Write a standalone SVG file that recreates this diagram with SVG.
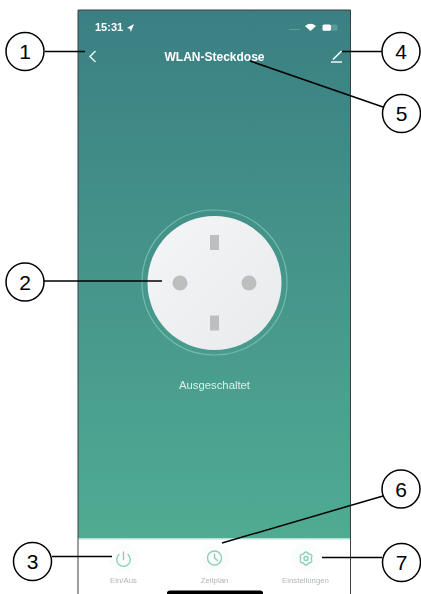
<svg xmlns="http://www.w3.org/2000/svg" width="421" height="594" viewBox="0 0 421 594">
<style>
.c{fill:#fff;stroke:#000;stroke-width:1.5}
.n{font:21px "Liberation Sans",Arial,sans-serif;fill:#000;text-anchor:middle}
.l{fill:none;stroke:#000;stroke-width:1.5}
.t{font-family:"Liberation Sans",Arial,sans-serif;text-anchor:middle}
.w{fill:#fff}
.tab{font-size:7.8px;fill:#b2b6b6}
.i{fill:none;stroke:#8fcdbd;stroke-width:1.4;stroke-linecap:round;stroke-linejoin:round}
.h{fill:#bdbfbf}
</style>
<defs>
<linearGradient id="g" x1="0" y1="0" x2="0" y2="1"><stop offset="0" stop-color="#3b7f83"/><stop offset="1" stop-color="#50ab92"/></linearGradient>
<linearGradient id="s" x1="0" y1="0" x2="1" y2="1"><stop offset="0" stop-color="#f3f5f6"/><stop offset="1" stop-color="#e8eaec"/></linearGradient>
<filter id="b" x="-5%" y="-5%" width="110%" height="110%"><feGaussianBlur stdDeviation="0.4"/></filter>
</defs>
<g id="screen">
<rect x="78" y="10" width="273" height="584" fill="#fff"/>
<rect x="78" y="10" width="273" height="528" fill="url(#g)"/>
<rect x="78" y="538" width="273" height="1.500" fill="#b5e0d4"/>
<path d="M78 594V10H350.500V594" fill="none" stroke="#3a3e40" stroke-width="1"/>
<path d="M167 594V593Q167 590.500 170 590.500H260Q263 590.500 263 593V594Z" fill="#000"/>
</g>
<g id="status" filter="url(#b)">
<text x="95" y="31" class="t w" style="font-weight:700;font-size:11px;text-anchor:start">15:31</text>
<path d="M134 24L127 28L130 28.800L130.800 32Z" class="w"/>
<rect x="289" y="29" width="11" height="1" fill="#5d9a9a"/>
<path d="M305 26Q310.500 21.500 316 26L310.500 31Z" class="w"/>
<rect x="322.500" y="24.500" width="8.500" height="6.200" rx="1.500" class="w"/>
<rect x="331" y="24.500" width="6.500" height="6.200" rx="1.500" fill="#5d9a9a"/>
</g>
<g id="back-icon" filter="url(#b)"><path d="M95.500 51L90 56.500L95.500 62" fill="none" stroke="#dfeeec" stroke-width="1.600"/></g>
<g id="title" filter="url(#b)"><text x="214.500" y="61" class="t w" style="font-size:12px;font-weight:700">WLAN-Steckdose</text></g>
<g id="edit-icon" filter="url(#b)"><path d="M331 62H342M333 59.500L341.500 51" fill="none" stroke="#f0f7f5" stroke-width="1.700"/></g>
<g id="socket">
<circle cx="214.500" cy="282.500" r="72.500" fill="none" stroke="#6fbcac" stroke-width="1.200"/>
<circle cx="214.500" cy="283" r="67" fill="url(#s)"/>
<rect x="210" y="235" width="9" height="15" class="h"/>
<rect x="210" y="315.500" width="9" height="15" class="h"/>
<circle cx="180" cy="283" r="7.500" class="h"/>
<circle cx="249" cy="283" r="7.500" class="h"/>
</g>
<g id="state" filter="url(#b)"><text x="214.500" y="389" class="t" fill="#dcefeb" style="font-size:11.300px">Ausgeschaltet</text></g>
<g id="tab-power" filter="url(#b)">
<circle cx="123.500" cy="558" r="15" fill="#fafdfc"/>
<path class="i" d="M123.500 552V559.500M119 554.500A6.800 6.800 0 1 0 128 554.500"/>
<text x="123.500" y="583" class="t tab">Ein/Aus</text>
</g>
<g id="tab-time" filter="url(#b)">
<circle cx="214.500" cy="558" r="15" fill="#fafdfc"/>
<circle cx="214.500" cy="558" r="7" class="i"/>
<path class="i" d="M214.500 554V558L217.500 560.500"/>
<text x="214.500" y="583" class="t tab">Zeitplan</text>
</g>
<g id="tab-settings" filter="url(#b)">
<circle cx="306" cy="558" r="15" fill="#fafdfc"/>
<path class="i" d="M303.400 554Q306 550 308.600 554Q313.400 554.250 311.200 558.500Q313.400 562.750 308.600 563Q306 567 303.400 563Q298.600 562.750 300.800 558.500Q298.600 554.250 303.400 554Z"/>
<circle cx="306" cy="558.500" r="2" class="i"/>
<text x="305.500" y="583" class="t tab">Einstellungen</text>
</g>
<g id="connectors">
<path class="l" d="M45 51.500H85"/>
<path class="l" d="M44 281H162"/>
<path class="l" d="M52 556.500H112"/>
<path class="l" d="M382 51.500H342"/>
<path class="l" d="M383 107L250 61"/>
<path class="l" d="M383 496L222 543"/>
<path class="l" d="M382 557.500H322"/>
</g>
<g id="callout-1"><circle class="c" cx="25" cy="51.500" r="19"/><text class="n" x="25" y="59">1</text></g>
<g id="callout-2"><circle class="c" cx="25" cy="282" r="19"/><text class="n" x="25" y="289.500">2</text></g>
<g id="callout-3"><circle class="c" cx="32.500" cy="561.500" r="19"/><text class="n" x="32.500" y="569">3</text></g>
<g id="callout-4"><circle class="c" cx="401" cy="51.500" r="19"/><text class="n" x="401" y="59">4</text></g>
<g id="callout-5"><circle class="c" cx="401.500" cy="113.500" r="19"/><text class="n" x="401.500" y="121">5</text></g>
<g id="callout-6"><circle class="c" cx="401" cy="489" r="19"/><text class="n" x="401" y="496.500">6</text></g>
<g id="callout-7"><circle class="c" cx="401.500" cy="562.500" r="19"/><text class="n" x="401.500" y="570">7</text></g>
</svg>
